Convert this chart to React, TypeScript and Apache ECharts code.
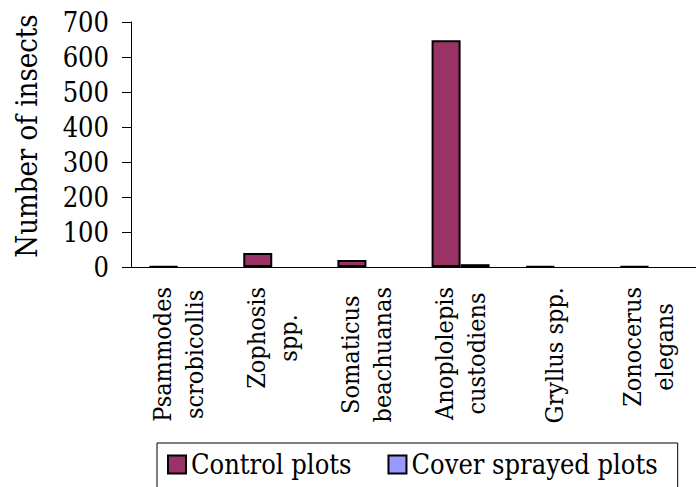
import React, { useEffect, useRef } from "react";
import * as echarts from "echarts";

const categories = [
  "Psammodes\nscrobicollis",
  "Zophosis\nspp.",
  "Somaticus\nbeachuanas",
  "Anoplolepis\ncustodiens",
  "Gryllus spp.",
  "Zonocerus\nelegans",
];
const controlPlots = [2, 40, 20, 648, 2, 2];
const coverSprayedPlots = [0, 0, 0, 8, 0, 0];
const yTicks = { min: 0, max: 700, interval: 100 };

const FONT = "DejaVu Serif Condensed";

const hideZero = (arr: number[]) => arr.map((v) => (v === 0 ? null : v));

export default function App() {
  const ref = useRef<HTMLDivElement>(null);
  useEffect(() => {
    if (!ref.current) return;
    const chart = echarts.init(ref.current, undefined, { renderer: "svg" });
    chart.setOption({
      animation: false,
      backgroundColor: "#fff",
      textStyle: { fontFamily: FONT, color: "#000" },
      grid: { left: 131, top: 22, width: 574, height: 245, containLabel: false },
      legend: {
        left: 157,
        top: 443,
        orient: "horizontal",
        icon: "rect",
        itemWidth: 18,
        itemHeight: 18,
        itemGap: 36,
        borderColor: "#000",
        borderWidth: 1,
        padding: [8, 20, 20, 10],
        textStyle: { fontFamily: FONT, fontSize: 27, color: "#000" },
        data: ["Control plots", "Cover sprayed plots"],
      },
      xAxis: {
        type: "category",
        data: categories,
        axisLine: { lineStyle: { color: "#000", width: 1 } },
        axisTick: { show: false },
        axisLabel: {
          rotate: 90,
          margin: 20,
          interval: 0,
          fontFamily: FONT,
          fontSize: 25,
          lineHeight: 32,
          color: "#000",
          formatter: (v: string) => v.split("\n").map((s) => `{c|${s}}`).join("\n"),
          rich: {
            c: { align: "center", fontFamily: FONT, fontSize: 25, lineHeight: 32, color: "#000" },
          },
        },
      },
      yAxis: {
        type: "value",
        min: yTicks.min,
        max: yTicks.max,
        interval: yTicks.interval,
        name: "Number of insects",
        nameLocation: "middle",
        nameGap: 90,
        nameTextStyle: { fontFamily: FONT, fontSize: 29, color: "#000", padding: [0, 0, 0, 17] },
        axisLine: { show: true, lineStyle: { color: "#000", width: 1 } },
        axisTick: { show: true, length: 9, lineStyle: { color: "#000" } },
        splitLine: { show: false },
        axisLabel: { fontFamily: FONT, fontSize: 27, color: "#000", margin: 22 },
      },
      series: [
        {
          name: "Control plots",
          type: "bar",
          data: hideZero(controlPlots),
          barWidth: 29,
          barGap: "0%",
          itemStyle: { color: "#993366", borderColor: "#000", borderWidth: 2 },
        },
        {
          name: "Cover sprayed plots",
          type: "bar",
          data: hideZero(coverSprayedPlots),
          barWidth: 29,
          barGap: "0%",
          itemStyle: { color: "#9999FF", borderColor: "#000", borderWidth: 2 },
        },
      ],
    });
    return () => chart.dispose();
  }, []);
  return <div ref={ref} style={{ width: 696, height: 487, position: "absolute", left: 0, top: 0 }} />;
}
